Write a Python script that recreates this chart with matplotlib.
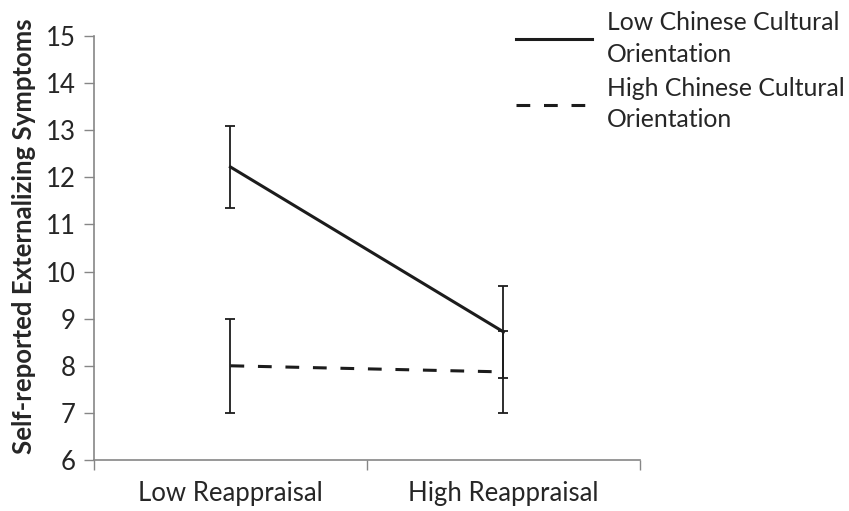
import numpy as np
import matplotlib
matplotlib.use("Agg")
import matplotlib.pyplot as plt

plt.rcParams['font.family'] = ['Lato', 'DejaVu Sans']

# categories on the x axis
conditions = ["Low Reappraisal", "High Reappraisal"]

# means and error sizes
low_cco_means = [12.22, 8.72]
low_cco_err = [0.86, 0.98]
high_cco_means = [8.0, 7.87]
high_cco_err = [1.0, 0.87]

series_labels = ["Low Chinese Cultural\nOrientation", "High Chinese Cultural\nOrientation"]

AXIS_GREY = "#868686"
LINE_COL = "#1c1c1c"
TEXT_COL = "#262626"
FS = 18.5
LEG_FS = 17.8

fig = plt.figure(figsize=(8.49, 5.11), dpi=100)
ax = fig.add_axes([0.1107, 0.0998, 0.643, 0.8297])

x = np.arange(len(conditions)) + 0.5

ax.errorbar(x, low_cco_means, yerr=low_cco_err, color=LINE_COL, lw=2.2, elinewidth=1.3,
            capsize=3.3, capthick=1.3, label=series_labels[0])
ax.errorbar(x, high_cco_means, yerr=high_cco_err, color=LINE_COL, lw=2.2, elinewidth=1.3,
            capsize=3.3, capthick=1.3, ls=(0, (4.5, 4.5)), label=series_labels[1])

ax.set_xlim(0, len(conditions))
ax.set_ylim(6, 15)
ax.set_yticks(range(6, 16))

# category boundaries as major ticks, labels on minor ticks at the centres
ax.set_xticks(range(len(conditions) + 1))
ax.set_xticklabels([])
ax.set_xticks(x, minor=True)
ax.set_xticklabels(conditions, minor=True)
ax.tick_params(axis='x', which='minor', length=0, pad=15, labelsize=FS, labelcolor=TEXT_COL)
ax.tick_params(axis='x', which='major', length=7, color=AXIS_GREY, width=1)
ax.tick_params(axis='y', length=7, color=AXIS_GREY, width=1, labelsize=FS,
               labelcolor=TEXT_COL, pad=6)

for side in ["top", "right"]:
    ax.spines[side].set_visible(False)
for side in ["left", "bottom"]:
    ax.spines[side].set_color(AXIS_GREY)
    ax.spines[side].set_linewidth(1.2)

ax.set_ylabel("Self-reported Externalizing Symptoms", fontsize=FS, fontweight="bold",
              color=TEXT_COL)
ax.yaxis.set_label_coords(-0.106, 0.528)

handles, labels = ax.get_legend_handles_labels()
handles = [h[0] for h in handles]
leg = fig.legend(handles, labels, loc="upper left", bbox_to_anchor=(0.582, 1.022), frameon=False,
                 fontsize=LEG_FS, handlelength=3.05, handletextpad=0.6, labelspacing=0.45,
                 labelcolor=TEXT_COL)
for t in leg.get_texts():
    t.set_linespacing(1.45)

fig.savefig("out.png", dpi=100)
